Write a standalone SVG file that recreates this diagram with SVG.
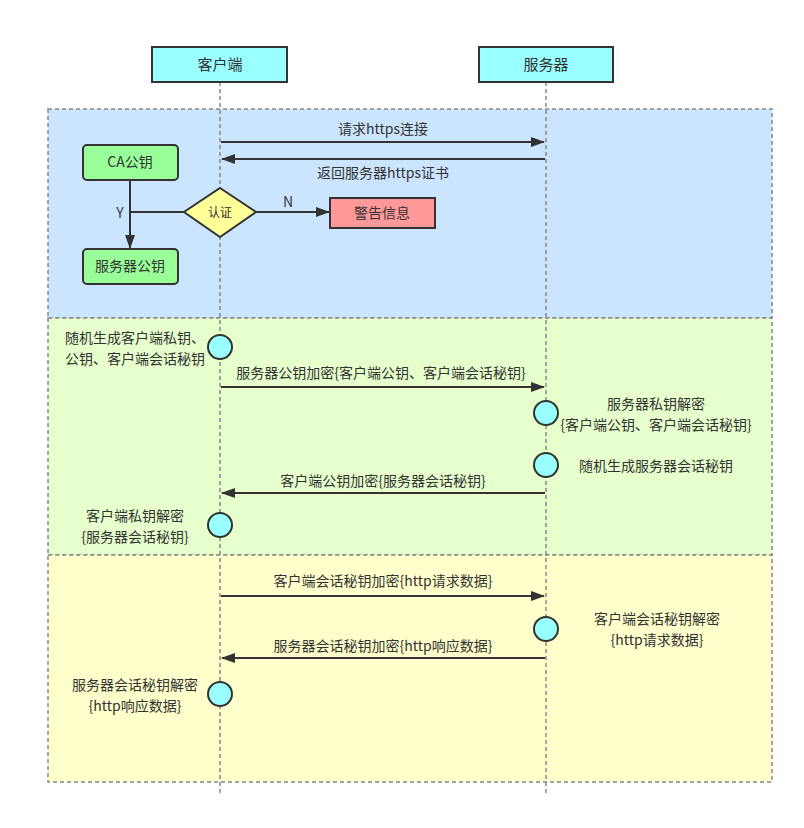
<svg xmlns="http://www.w3.org/2000/svg" width="804" height="828" viewBox="0 0 804 828">
<style>
text{font-family:"Noto Sans CJK SC","Noto Sans",sans-serif;font-size:14px;fill:#333;}
.c{text-anchor:middle;}
.sec{stroke:#888;stroke-width:1.5;stroke-dasharray:4 3;}
.life{stroke:#888;stroke-width:1.5;stroke-dasharray:4 3;fill:none;}
.box{stroke:#333;stroke-width:2;}
.ln{stroke:#333;stroke-width:2;fill:none;}
.act{fill:#99ffff;stroke:#333;stroke-width:2;}
</style>
<defs>
<marker id="ah" viewBox="0 0 14 10" refX="13" refY="5" markerWidth="14" markerHeight="10" markerUnits="userSpaceOnUse" orient="auto">
<path d="M0,0 L14,5 L0,10 Z" fill="#333"/>
</marker>
</defs>
<rect width="804" height="828" fill="#fff"/>
<g id="sections">
<rect x="48" y="109" width="724" height="209" fill="#cce5ff" class="sec"/>
<rect x="48" y="318" width="724" height="237" fill="#e6ffcc" class="sec"/>
<rect x="48" y="555" width="724" height="227" fill="#ffffcc" class="sec"/>
</g>
<g id="lifelines">
<line x1="220" y1="82" x2="220" y2="796" class="life"/>
<line x1="546" y1="82" x2="546" y2="796" class="life"/>
</g>
<g id="client"><rect x="152" y="47" width="135" height="35" fill="#99ffff" class="box"/><text x="220" y="70" class="c" style="font-size:15px">客户端</text></g>
<g id="server"><rect x="479" y="47" width="134" height="35" fill="#99ffff" class="box"/><text x="546" y="70" class="c" style="font-size:15px">服务器</text></g>
<g id="connectors">
<line x1="221" y1="142" x2="544" y2="142" class="ln" marker-end="url(#ah)"/>
<line x1="545" y1="159" x2="222" y2="159" class="ln" marker-end="url(#ah)"/>
<polyline points="184,212 130,212" class="ln"/>
<line x1="130" y1="180" x2="130" y2="248" class="ln" marker-end="url(#ah)"/>
<line x1="256" y1="212" x2="329" y2="212" class="ln" marker-end="url(#ah)"/>
<line x1="221" y1="387" x2="544" y2="387" class="ln" marker-end="url(#ah)"/>
<line x1="545" y1="493" x2="222" y2="493" class="ln" marker-end="url(#ah)"/>
<line x1="221" y1="596" x2="544" y2="596" class="ln" marker-end="url(#ah)"/>
<line x1="545" y1="658" x2="222" y2="658" class="ln" marker-end="url(#ah)"/>
</g>
<g id="labels">
<text x="383" y="134" class="c">请求https连接</text>
<text x="383" y="178" class="c">返回服务器https证书</text>
<text x="120" y="218" class="c">Y</text>
<text x="288" y="207" class="c">N</text>
<text x="381" y="378" class="c">服务器公钥加密{客户端公钥、客户端会话秘钥}</text>
<text x="383" y="486" class="c">客户端公钥加密{服务器会话秘钥}</text>
<text x="383" y="586" class="c">客户端会话秘钥加密{http请求数据}</text>
<text x="383" y="651" class="c">服务器会话秘钥加密{http响应数据}</text>
</g>
<g id="ca"><rect x="83" y="145" width="95" height="35" rx="4" fill="#99ff99" class="box"/><text x="130" y="167" class="c">CA公钥</text></g>
<g id="srvkey"><rect x="83" y="249" width="95" height="35" rx="4" fill="#99ff99" class="box"/><text x="130" y="271" class="c">服务器公钥</text></g>
<g id="verify"><polygon points="220,188 256,212 220,237 184,212" fill="#ffff99" class="box"/><text x="220" y="217" class="c" style="font-size:12px">认证</text></g>
<g id="warn"><rect x="330" y="198" width="105" height="30" fill="#ff9999" class="box"/><text x="382" y="218" class="c">警告信息</text></g>
<g id="a1"><circle cx="220" cy="347" r="12" class="act"/><text x="65" y="343"><tspan x="65">随机生成客户端私钥、</tspan><tspan x="65" dy="20.6">公钥、客户端会话秘钥</tspan></text></g>
<g id="a2"><circle cx="546" cy="413" r="12" class="act"/><text x="656" y="409" class="c"><tspan x="656">服务器私钥解密</tspan><tspan x="656" dy="20.6">{客户端公钥、客户端会话秘钥}</tspan></text></g>
<g id="a3"><circle cx="546" cy="465" r="12" class="act"/><text x="656" y="471" class="c">随机生成服务器会话秘钥</text></g>
<g id="a4"><circle cx="220" cy="525" r="12" class="act"/><text x="135" y="521" class="c"><tspan x="135">客户端私钥解密</tspan><tspan x="135" dy="20.6">{服务器会话秘钥}</tspan></text></g>
<g id="a5"><circle cx="546" cy="629" r="12" class="act"/><text x="657" y="624" class="c"><tspan x="657">客户端会话秘钥解密</tspan><tspan x="657" dy="20.6">{http请求数据}</tspan></text></g>
<g id="a6"><circle cx="220" cy="694" r="12" class="act"/><text x="135" y="690" class="c"><tspan x="135">服务器会话秘钥解密</tspan><tspan x="135" dy="20.6">{http响应数据}</tspan></text></g>
</svg>
